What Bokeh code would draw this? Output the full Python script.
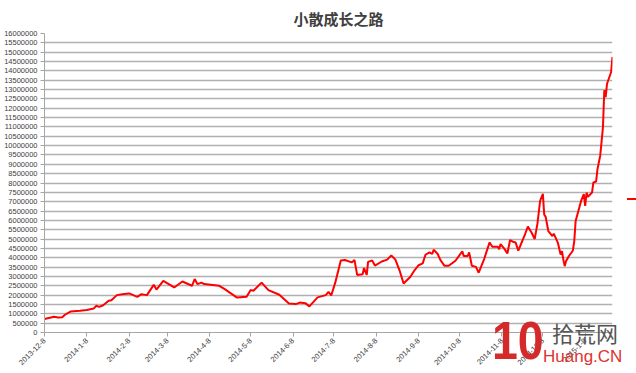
import datetime as dt
from math import pi

from bokeh.plotting import figure
from bokeh.models import (ColumnDataSource, FixedTicker, Range1d, Div,
                          NumeralTickFormatter)
from bokeh.embed import file_html
from bokeh.resources import INLINE

chart_title = "小散成长之路"

dates = [
    "2013-12-08", "2013-12-15", "2013-12-18", "2013-12-21", "2013-12-23", "2013-12-27",
    "2014-01-03", "2014-01-08", "2014-01-13", "2014-01-15", "2014-01-17", "2014-01-20",
    "2014-01-24", "2014-01-26", "2014-01-30", "2014-02-03", "2014-02-08", "2014-02-14",
    "2014-02-17", "2014-02-21", "2014-02-26", "2014-02-28", "2014-03-05", "2014-03-09",
    "2014-03-13", "2014-03-19", "2014-03-26", "2014-03-28", "2014-03-30", "2014-04-02",
    "2014-04-04", "2014-04-15", "2014-04-19", "2014-04-28", "2014-05-05", "2014-05-08",
    "2014-05-10", "2014-05-16", "2014-05-21", "2014-05-29", "2014-06-05", "2014-06-10",
    "2014-06-13", "2014-06-17", "2014-06-20", "2014-06-26", "2014-07-02", "2014-07-04",
    "2014-07-06", "2014-07-09", "2014-07-13", "2014-07-16", "2014-07-21", "2014-07-23",
    "2014-07-25", "2014-07-29", "2014-07-30", "2014-08-01", "2014-08-02", "2014-08-05",
    "2014-08-07", "2014-08-12", "2014-08-16", "2014-08-19", "2014-08-22", "2014-08-25",
    "2014-08-28", "2014-09-02", "2014-09-05", "2014-09-08", "2014-09-11", "2014-09-13",
    "2014-09-16", "2014-09-18", "2014-09-19", "2014-09-22", "2014-09-24", "2014-09-27",
    "2014-09-30", "2014-10-05", "2014-10-10", "2014-10-11", "2014-10-14", "2014-10-15",
    "2014-10-17", "2014-10-20", "2014-10-22", "2014-10-26", "2014-10-28", "2014-10-30",
    "2014-11-01", "2014-11-05", "2014-11-06", "2014-11-07", "2014-11-10", "2014-11-12",
    "2014-11-14", "2014-11-16", "2014-11-18", "2014-11-20", "2014-11-23", "2014-11-25",
    "2014-11-27", "2014-11-30", "2014-12-02", "2014-12-04", "2014-12-06", "2014-12-08",
    "2014-12-09", "2014-12-10", "2014-12-12", "2014-12-15", "2014-12-16", "2014-12-19",
    "2014-12-21", "2014-12-22", "2014-12-23", "2014-12-24", "2014-12-25", "2014-12-27",
    "2014-12-30", "2014-12-31", "2015-01-01", "2015-01-03", "2015-01-05", "2015-01-07",
    "2015-01-08", "2015-01-09", "2015-01-10", "2015-01-13", "2015-01-14", "2015-01-16",
    "2015-01-17", "2015-01-19", "2015-01-21", "2015-01-22", "2015-01-23", "2015-01-24",
    "2015-01-27", "2015-01-28",
]

balances = [
    720000, 840000, 800000, 820000, 950000, 1120000,
    1160000, 1200000, 1280000, 1430000, 1370000, 1460000,
    1700000, 1730000, 2000000, 2050000, 2090000, 1910000,
    2050000, 2000000, 2550000, 2300000, 2760000, 2590000,
    2410000, 2730000, 2500000, 2860000, 2590000, 2670000,
    2590000, 2500000, 2320000, 1870000, 1910000, 2270000,
    2230000, 2670000, 2270000, 2020000, 1550000, 1520000,
    1600000, 1570000, 1400000, 1880000, 2000000, 2180000,
    1980000, 2680000, 3850000, 3880000, 3750000, 3880000,
    3080000, 3120000, 3450000, 3080000, 3780000, 3850000,
    3580000, 3800000, 3900000, 4120000, 3900000, 3330000,
    2620000, 2980000, 3330000, 3600000, 3700000, 4160000,
    4290000, 4200000, 4430000, 4200000, 3870000, 3570000,
    3570000, 3840000, 4340000, 4100000, 4100000, 4290000,
    3570000, 3510000, 3200000, 3930000, 4380000, 4820000,
    4590000, 4590000, 4460000, 4730000, 4460000, 4230000,
    4950000, 4860000, 4820000, 4380000, 4910000, 5270000,
    5670000, 5310000, 5000000, 5810000, 7050000, 7420000,
    6300000, 6200000, 5430000, 5160000, 5290000, 4800000,
    4170000, 4350000, 3900000, 3550000, 3820000, 4080000,
    4390000, 4890000, 5970000, 6500000, 7040000, 7400000,
    6770000, 7490000, 7260000, 7490000, 8030000, 8080000,
    8740000, 9460000, 10980000, 12960000, 12600000, 13310000,
    13940000, 14750000,
]

x_tick_labels = [
    "2013-12-8", "2014-1-8", "2014-2-8", "2014-3-8", "2014-4-8", "2014-5-8",
    "2014-6-8", "2014-7-8", "2014-8-8", "2014-9-8", "2014-10-8", "2014-11-8",
    "2014-12-8", "2015-1-8",
]
y_ticks = list(range(0, 16000001, 500000))

watermark_texts = ["10", "拾荒网", "Huang.CN"]


def to_dt(s):
    y, m, d = (int(t) for t in s.split("-"))
    return dt.datetime(y, m, d)


def to_ms(d):
    return (d - dt.datetime(1970, 1, 1)).total_seconds() * 1000.0


xs = [to_dt(s) for s in dates]
source = ColumnDataSource(data=dict(x=xs, y=balances))

p = figure(width=636, height=373, x_axis_type="datetime",
           output_backend="svg", toolbar_location=None,
           x_range=Range1d(xs[0], xs[-1]), y_range=Range1d(0, 16000000),
           min_border_left=44, min_border_right=24, min_border_top=33,
           min_border_bottom=41)

p.title.text = chart_title
p.title.align = "left"
p.title.offset = 249
p.title.text_font = "Noto Sans CJK SC"
p.title.text_font_size = "15px"
p.title.text_font_style = "bold"
p.title.text_color = "#404040"

p.outline_line_color = None
p.background_fill_color = "white"
p.border_fill_color = "white"

line = p.line("x", "y", source=source, line_color="#ff0000", line_width=2)

# axes
tick_ms = [to_ms(to_dt(s)) for s in x_tick_labels]
p.xaxis.ticker = FixedTicker(ticks=tick_ms)
p.xaxis.major_label_overrides = {t: lab for t, lab in zip(tick_ms, x_tick_labels)}
p.xaxis.major_label_orientation = pi / 4
p.xaxis.minor_tick_line_color = None

p.yaxis.ticker = FixedTicker(ticks=y_ticks)
p.yaxis.formatter = NumeralTickFormatter(format="0")
p.yaxis.minor_tick_line_color = None

for ax in (p.xaxis[0], p.yaxis[0]):
    ax.axis_line_color = "#a6a6a6"
    ax.major_tick_line_color = "#a6a6a6"
    ax.major_tick_in = 0
    ax.major_tick_out = 4
    ax.major_label_text_font = "Liberation Sans"
    ax.major_label_text_font_size = "7.5px"
    ax.major_label_text_color = "#404040"
    ax.major_label_standoff = 3

p.xgrid.grid_line_color = None
p.ygrid.grid_line_color = "#b0b0b0"
p.ygrid.grid_line_width = 1.3

# overlay: cut-off legend key at the right edge and the site watermark
overlay_html = (
    '<div style="position:absolute;left:627px;top:198px;width:9px;height:2px;'
    'background:#ff0000;"></div>'
    '<div style="position:absolute;left:492px;top:313px;'
    'font-family:\'Liberation Sans\';font-weight:bold;font-size:54px;'
    'line-height:54px;color:#d42a2a;transform:scaleX(0.86);'
    'transform-origin:left top;">' + watermark_texts[0] + '</div>'
    '<div style="position:absolute;left:552px;top:319px;'
    'font-family:\'Noto Sans CJK SC\';font-size:22px;line-height:26px;'
    'color:#555555;">' + watermark_texts[1] + '</div>'
    '<div style="position:absolute;left:543px;top:347px;'
    'font-family:\'Liberation Sans\';font-size:17px;line-height:20px;'
    'color:#e0322d;">' + watermark_texts[2] + '</div>'
)
overlay = Div(text=overlay_html,
              styles={"position": "absolute", "left": "0px", "top": "0px",
                      "width": "636px", "height": "373px",
                      "pointer-events": "none", "z-index": "10"})
p.elements = [overlay]

open("out.html", "w").write(file_html(p, INLINE))
